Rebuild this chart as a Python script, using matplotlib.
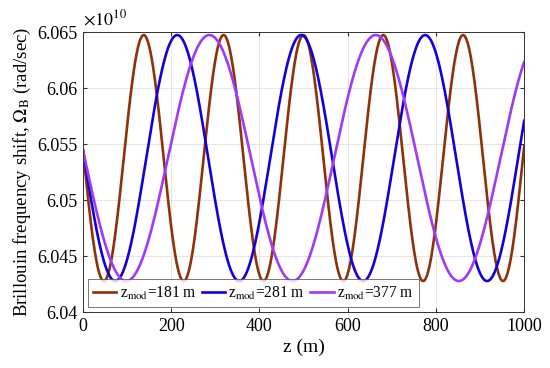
import numpy as np
import matplotlib
matplotlib.use('Agg')
import matplotlib.pyplot as plt
from matplotlib.ticker import FuncFormatter

# values (Omega_B in units of 1e10 rad/sec)
z_mod = [181, 281, 377]
omega_center = 6.05375
omega_amp = 0.01098
phase = 3.08
line_colors = ['#8E320A', '#1400D8', '#9F3AF6']
z_max = 1000

plt.rcParams['font.family'] = ['Liberation Serif', 'DejaVu Serif']
plt.rcParams['mathtext.fontset'] = 'stix'

fig = plt.figure(figsize=(5.5, 3.68), dpi=100)
ax = fig.add_axes([0.151, 0.152, 0.802, 0.761])

z = np.linspace(0, z_max, 2001)
for zm, c in zip(z_mod, line_colors):
    omega = omega_center + omega_amp * np.sin(2 * np.pi * z / zm + phase)
    ax.plot(z, omega, color=c, lw=1.9, label=r'z$_{\rm mod}$=%d m' % zm)

ax.set_xlim(0, 1000)
ax.set_ylim(6.04, 6.065)
ax.set_xticks([0, 200, 400, 600, 800, 1000])
ax.set_yticks([6.04, 6.045, 6.05, 6.055, 6.06, 6.065])
ax.yaxis.set_major_formatter(FuncFormatter(lambda v, p: ('%.3f' % v).rstrip('0')))
ax.grid(True, color='#e6e6e6', lw=0.7)
ax.set_axisbelow(True)
ax.tick_params(direction='in', top=True, right=True, labelsize=13,
               length=3, color='#333333', pad=4)
for s in ax.spines.values():
    s.set_color('#333333')
    s.set_linewidth(0.7)

ax.text(0, 1.01, r'$\times 10^{10}$', transform=ax.transAxes, fontsize=13,
        ha='left', va='bottom')
ax.set_xlabel('z (m)', fontsize=14, labelpad=3)
ax.set_ylabel(r'Brillouin frequency shift, $\Omega_{\rm B}$ (rad/sec)', fontsize=13.5,
              labelpad=3)

leg = ax.legend(loc='lower left', ncol=3, fontsize=11.2, frameon=True, fancybox=False,
                handlelength=1.5, handletextpad=0.2, columnspacing=0.35,
                borderpad=0.35, borderaxespad=0.3, edgecolor='#555555',
                bbox_to_anchor=(0.0, 0.0))
leg.get_frame().set_linewidth(0.7)

fig.savefig('out.png', dpi=100)
